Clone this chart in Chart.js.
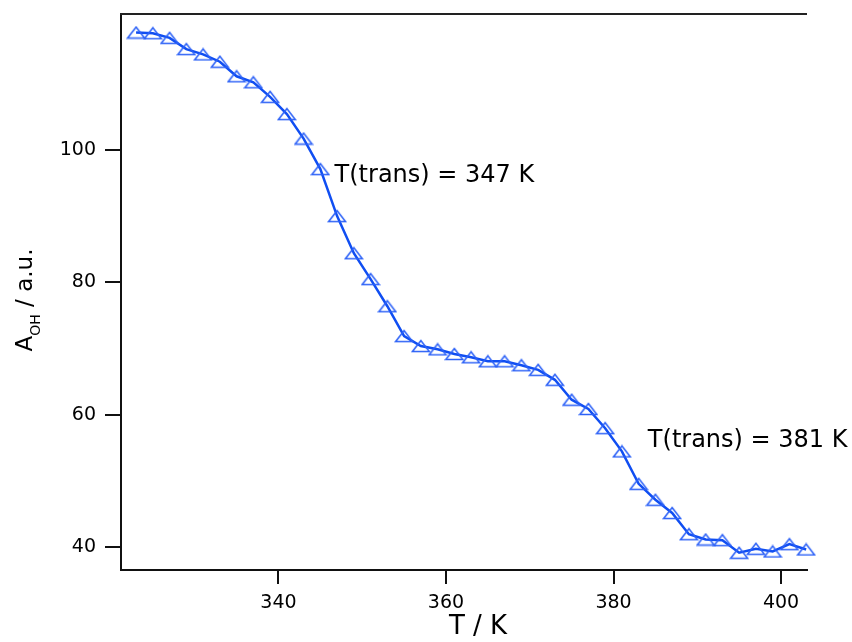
<!DOCTYPE html>
<html>
<head>
<meta charset="utf-8">
<script src="https://cdn.jsdelivr.net/npm/chart.js@4/dist/chart.umd.min.js"></script>
<style>
  html, body { margin: 0; padding: 0; background: #fff; }
  #wrap { width: 852px; height: 642px; }
</style>
</head>
<body>
<div id="wrap"><canvas id="absorbance"></canvas></div>
<script>
document.addEventListener("DOMContentLoaded", function () {
  // temperature (K) and OH absorbance (a.u.)
  var temps = [323, 325, 327, 329, 331, 333, 335, 337, 339, 341, 343, 345, 347, 349,
    351, 353, 355, 357, 359, 361, 363, 365, 367, 369, 371, 373, 375, 377, 379, 381,
    383, 385, 387, 389, 391, 393, 395, 397, 399, 401, 403];
  var absOH = [117.7, 117.6, 116.9, 115.2, 114.4, 113.3, 111.1, 110.2, 108.0, 105.4,
    101.7, 97.1, 90.0, 84.4, 80.5, 76.4, 71.9, 70.4, 69.9, 69.2, 68.7, 68.1, 68.1,
    67.5, 66.8, 65.3, 62.3, 60.9, 58.0, 54.5, 49.6, 47.2, 45.2, 42.0, 41.2, 41.1,
    39.2, 39.8, 39.4, 40.5, 39.7];

  var xTicks = [340, 360, 380, 400];
  var yTicks = [40, 60, 80, 100];

  // transition labels, anchored in data units (left edge / baseline)
  var annTexts = ["T(trans) = 347 K", "T(trans) = 381 K"];
  var annT = [346.7, 384.1];
  var annA = [95.1, 55.2];

  var FONT = "'DejaVu Sans', sans-serif";

  // flat open triangle marker
  var tri = document.createElement("canvas");
  tri.width = 20;
  tri.height = 14;
  var tctx = tri.getContext("2d");
  tctx.strokeStyle = "#2d62f7";
  tctx.lineWidth = 1.6;
  tctx.beginPath();
  tctx.moveTo(1.5, 12.5);
  tctx.lineTo(10, 1.5);
  tctx.lineTo(18.5, 12.5);
  tctx.closePath();
  tctx.stroke();

  var extras = {
    id: "extras",
    afterDraw: function (chart) {
      var c = chart.ctx;
      var area = chart.chartArea;
      var xs = chart.scales.x;
      var ys = chart.scales.y;
      c.save();

      // top frame line
      c.strokeStyle = "#222";
      c.lineWidth = 2;
      c.beginPath();
      c.moveTo(area.left - 1, area.top);
      c.lineTo(area.right, area.top);
      c.stroke();

      // transition annotations
      c.fillStyle = "#000";
      c.font = "24px " + FONT;
      c.textAlign = "left";
      c.textBaseline = "alphabetic";
      for (var i = 0; i < annTexts.length; i++) {
        c.fillText(annTexts[i], xs.getPixelForValue(annT[i]), ys.getPixelForValue(annA[i]));
      }

      // x title
      c.font = "26px " + FONT;
      c.textAlign = "center";
      c.fillText("T / K", 478, 634);

      // y title with subscript
      var big = "23px " + FONT;
      var small = "14px " + FONT;
      c.font = big;
      var wA = c.measureText("A").width;
      var wRest = c.measureText(" / a.u.").width;
      c.font = small;
      var wSub = c.measureText("OH").width;
      var total = wA + wSub + wRest;
      c.translate(32, 300 + total / 2);
      c.rotate(-Math.PI / 2);
      c.textAlign = "left";
      c.font = big;
      c.fillText("A", 0, 0);
      c.font = small;
      c.fillText("OH", wA, 8);
      c.font = big;
      c.fillText(" / a.u.", wA + wSub, 0);

      c.restore();
    },
  };

  var ctx = document.getElementById("absorbance").getContext("2d");
  var absChart = new Chart(ctx, {
    type: "line",
    data: {
      datasets: [
        {
          data: temps.map(function (t, i) { return { x: t, y: absOH[i] }; }),
          borderColor: "#104ef2",
          borderWidth: 2.5,
          pointStyle: tri,
          pointRadius: 9,
          pointHoverRadius: 9,
          tension: 0,
          clip: false,
        },
      ],
    },
    options: {
      responsive: true,
      maintainAspectRatio: false,
      animation: false,
      layout: { padding: { top: 14, right: 45, left: 0, bottom: 0 } },
      plugins: { legend: { display: false }, tooltip: { enabled: false } },
      scales: {
        x: {
          type: "linear",
          min: 321.2,
          max: 403.1,
          afterBuildTicks: function (s) {
            s.ticks = xTicks.map(function (v) { return { value: v }; });
          },
          afterFit: function (s) {
            s.height = 72;
            s.paddingLeft = 0;
            s.paddingRight = 0;
          },
          border: { display: true, color: "#111", width: 2 },
          grid: { drawOnChartArea: false, drawTicks: true, tickLength: 14, color: "#111", lineWidth: 2 },
          ticks: { color: "#000", font: { family: FONT, size: 19 }, padding: 8, maxRotation: 0 },
        },
        y: {
          min: 36.6,
          max: 120.5,
          afterBuildTicks: function (s) {
            s.ticks = yTicks.map(function (v) { return { value: v }; });
          },
          afterFit: function (s) {
            s.width = 121;
            s.paddingTop = 0;
            s.paddingBottom = 0;
          },
          border: { display: true, color: "#111", width: 2 },
          grid: { drawOnChartArea: false, drawTicks: true, tickLength: 16, color: "#111", lineWidth: 2 },
          ticks: { color: "#000", font: { family: FONT, size: 19 }, padding: 9 },
        },
      },
    },
    plugins: [extras],
  });
});
</script>
</body>
</html>
